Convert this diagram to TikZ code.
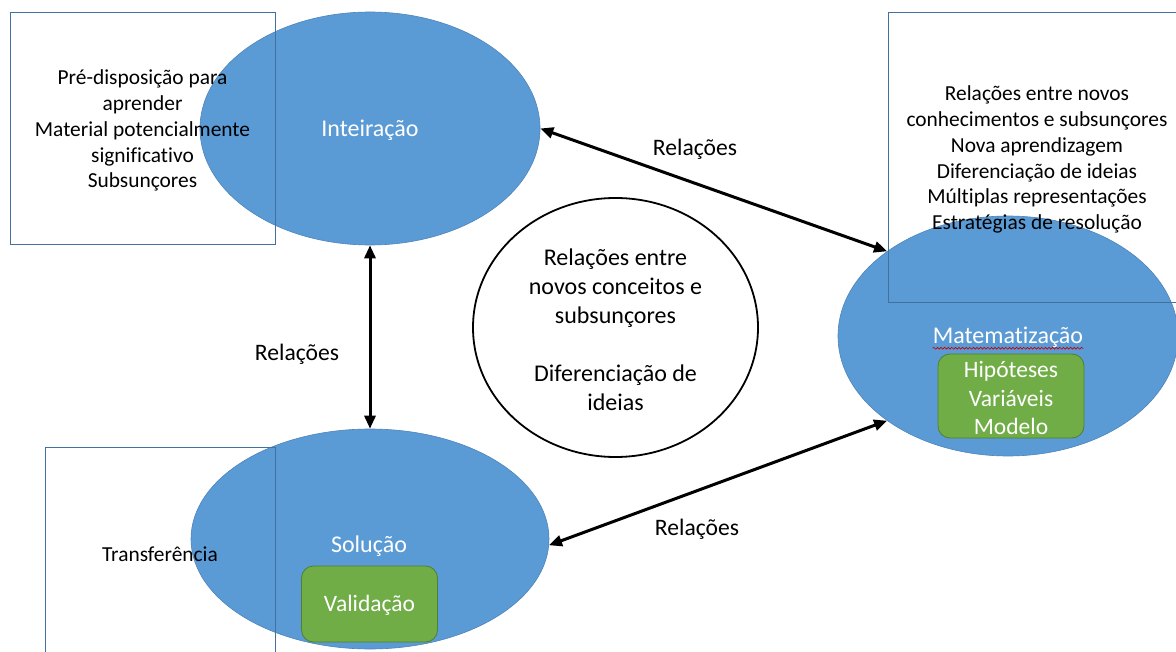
\documentclass[tikz,border=0pt]{standalone}
\usepackage{fontspec}
\setmainfont{Carlito}[Ligatures=NoCommon]
\usetikzlibrary{shapes.geometric,arrows.meta,decorations.pathmorphing}
\definecolor{phaseblue}{RGB}{91,155,213}
\definecolor{phaseedge}{RGB}{78,132,186}
\definecolor{boxedge}{RGB}{65,113,156}
\definecolor{stepgreen}{RGB}{112,173,71}
\definecolor{stepgreenedge}{RGB}{80,126,50}
\begin{document}
\begin{tikzpicture}[x=1pt,y=-1pt,
  phase/.style={ellipse, fill=phaseblue, draw=phaseedge, line width=0.6pt, inner sep=0pt},
  phaselabel/.style={text=white, inner sep=0pt, font=\fontsize{24}{29}\selectfont},
  notebox/.style={rectangle, draw=boxedge, line width=0.9pt, inner sep=0pt},
  notetext/.style={inner sep=0pt, align=center, font=\fontsize{21.4}{25.9}\selectfont},
  stepbox/.style={rectangle, rounded corners=12pt, fill=stepgreen, draw=stepgreenedge,
    line width=0.8pt, inner sep=0pt},
  steptext/.style={inner sep=0pt, text=white, align=center, font=\fontsize{23.5}{28.5}\selectfont},
  link/.style={line width=3pt, {Triangle[length=13pt,width=11pt]}-{Triangle[length=13pt,width=11pt]}},
  linklabel/.style={inner sep=0pt, font=\fontsize{23.6}{28}\selectfont}
]
\useasboundingbox (0,0) rectangle (1176,652);
\fill[white] (0,0) rectangle (1176,652);

% the three phases
\node[phase, minimum width=340pt, minimum height=233pt] (inte) at (370,128.5) {};
\node[phase, minimum width=340pt, minimum height=240pt] (mat) at (1008,336) {};
\node[phase, minimum width=358pt, minimum height=220pt] (sol) at (370,539) {};

% central idea
\node[ellipse, draw=black, line width=1.8pt, minimum width=285pt, minimum height=259pt,
  inner sep=0pt] (core) at (615.5,327.5) {};
\node[inner sep=0pt, align=center, font=\fontsize{24}{29}\selectfont, yshift=-2pt]
  (coretext) at (core.center)
  {Relações entre\\novos conceitos e\\subsunçores\\[29pt]Diferenciação de\\ideias};

% phase labels and steps
\node[phaselabel, yshift=-2pt] (intelabel) at (inte.center) {Inteiração};
\node[phaselabel] (matlabel) at (1008,337) {Matematização};
\draw[red!80!black, line width=0.7pt, decorate,
  decoration={snake, amplitude=0.9pt, segment length=3.6pt}]
  ([yshift=-5pt]matlabel.base west) -- ([yshift=-5pt]matlabel.base east);
\node[stepbox, minimum width=146pt, minimum height=84pt] (matsteps) at (1011,396) {};
\node[steptext, yshift=-2pt] (matstepstext) at (matsteps.center) {Hipóteses\\Variáveis\\Modelo};
\node[phaselabel] (sollabel) at (369,546) {Solução};
\node[stepbox, minimum width=136pt, minimum height=76pt] (solstep) at (369.5,604) {};
\node[steptext, yshift=-1.5pt] (solsteptext) at (solstep.center) {Validação};

% notes
\node[notebox, minimum width=265pt, minimum height=232pt] (prior) at (142.5,128) {};
\node[notetext, yshift=-2.5pt] (priortext) at (prior.center)
  {Pré-disposição para\\aprender\\Material potencialmente\\significativo\\Subsunçores};
\node[notebox, minimum width=298pt, minimum height=290pt] (learn) at (1037,157) {};
\node[notetext, yshift=-2.5pt] (learntext) at (learn.center)
  {Relações entre novos\\conhecimentos e subsunçores\\Nova aprendizagem\\Diferenciação de ideias\\Múltiplas representações\\Estratégias de resolução};
\node[notebox, minimum width=230pt, minimum height=212pt] (transfer) at (160,553) {};
\node[notetext, yshift=-1pt] (transfertext) at (transfer.center) {Transferência};

% relations
\draw[link] (inte.east) -- (mat.145);
\draw[link] (inte.south) -- (sol.north);
\draw[link] (sol.-2) -- (mat.215);
\node[linklabel] (rel1) at (695,149) {Relações};
\node[linklabel] (rel2) at (297,354) {Relações};
\node[linklabel] (rel3) at (697,529) {Relações};
\end{tikzpicture}
\end{document}
